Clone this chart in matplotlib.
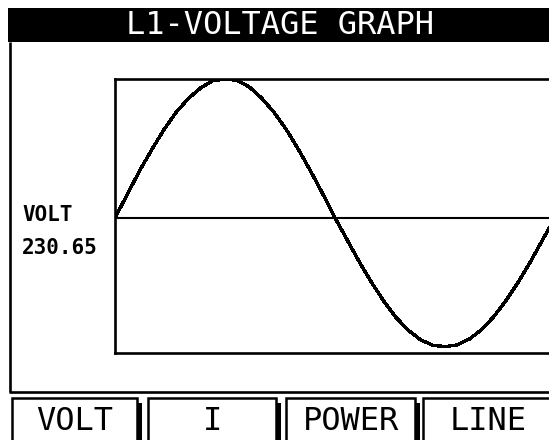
import matplotlib
matplotlib.use("Agg")
import matplotlib.pyplot as plt
from matplotlib.patches import Rectangle

plt.rcParams['font.family'] = ['DejaVu Sans Mono', 'DejaVu Sans']

# waveform samples (phase in degrees, volts)
phase_deg = [0, 10, 20, 30, 40, 50, 60, 70, 80, 90, 100, 110, 120, 130, 140,
             150, 160, 170, 180, 190, 200, 210, 220, 230, 240, 250, 260, 270,
             280, 290, 300, 310, 320, 330, 340, 350, 355]
volts = [0, 55, 110, 160, 207, 248, 280, 305, 322, 326, 323, 307, 281, 248,
         208, 161, 110, 56, 0, -52, -104, -152, -196, -234, -264, -286, -299,
         -302, -298, -284, -262, -231, -193, -150, -102, -50, -25]

title = "L1-VOLTAGE GRAPH"
readout_label = "VOLT"
readout_value = "230.65"
buttons = ["VOLT", "I", "POWER", "LINE"]

W, H = 549, 440
fig = plt.figure(figsize=(W / 100, H / 100), dpi=100)
fig.patch.set_facecolor('white')

# background layer in pixel coords for the screen chrome
bg = fig.add_axes([0, 0, 1, 1])
bg.set_xlim(0, W)
bg.set_ylim(H, 0)
bg.axis('off')

# title bar
bg.add_patch(Rectangle((8, 8), W - 8, 34, facecolor='black', edgecolor='none'))
bg.text(280, 25, title, color='white', fontsize=23, ha='center', va='center')

# outer frame (left + bottom)
bg.plot([10, 10], [42, 392], color='black', lw=1.9, solid_capstyle='butt')
bg.plot([9, W], [392, 392], color='black', lw=1.9, solid_capstyle='butt')

# readout
bg.text(22, 215, readout_label, fontsize=15, fontweight='bold', ha='left', va='center')
bg.text(22, 248, readout_value, fontsize=15, fontweight='bold', ha='left', va='center')

# soft buttons
btn_x = [(12, 137), (148, 276), (286, 415), (423, 560)]
for (x0, x1), name in zip(btn_x, buttons):
    bg.add_patch(Rectangle((x0 + 5, 403), x1 - x0, 45, facecolor='black', edgecolor='none'))
    bg.add_patch(Rectangle((x0, 398), x1 - x0, 50, facecolor='white',
                           edgecolor='black', lw=1.8))
    bg.text((x0 + min(x1, W)) / 2 + (2 if name == "LINE" else 0), 421, name,
            fontsize=23, ha='center', va='center')

# waveform plot
ax = fig.add_axes([115 / W, (H - 353) / H, (W - 115) / W, (353 - 79) / H])
ax.set_facecolor('none')
ax.plot(phase_deg, volts, color='black', lw=1.7, antialiased=False)
ax.axhline(0, color='black', lw=1.5)
ax.set_xlim(0, 355)
ax.set_ylim(-317, 326)
ax.set_xticks([])
ax.set_yticks([])
for side in ['left', 'top', 'bottom']:
    ax.spines[side].set_linewidth(1.9)
ax.spines['right'].set_visible(False)

fig.savefig("out.png", dpi=100, facecolor='white')
